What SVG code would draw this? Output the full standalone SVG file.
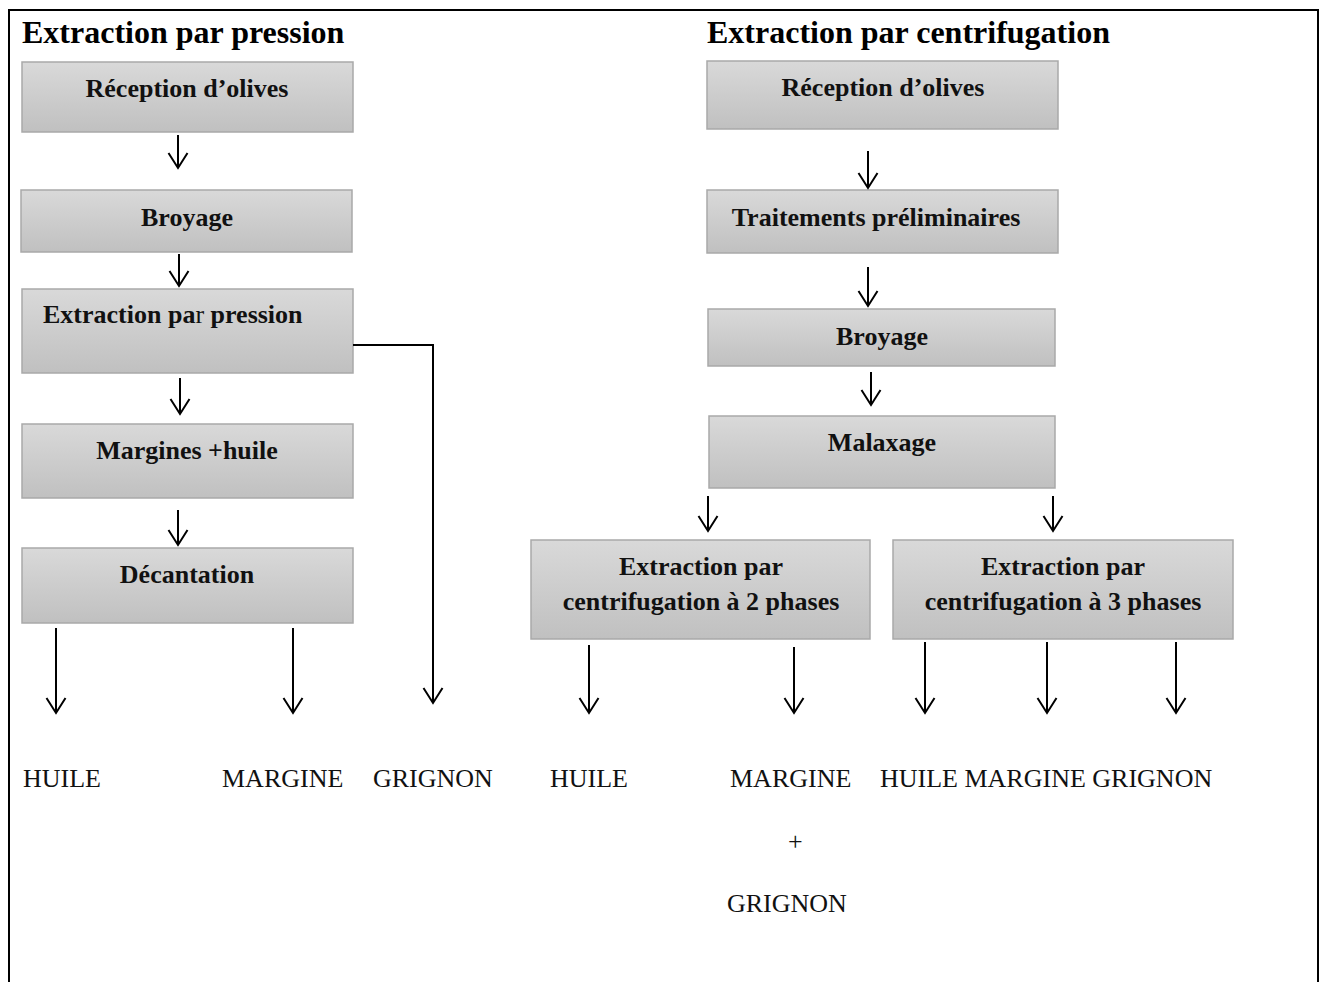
<svg xmlns="http://www.w3.org/2000/svg" width="1325" height="982" viewBox="0 0 1325 982">
<style>
.bx{fill:url(#g);stroke:#a9a9a9;stroke-width:1.5}
.bt{font-family:"Liberation Serif","Times New Roman",serif;font-weight:bold;font-size:26px;fill:#111;text-anchor:middle}
.st{text-anchor:start}
.tt{font-family:"Liberation Serif","Times New Roman",serif;font-weight:bold;font-size:32px;fill:#000}
.lb{font-family:"Liberation Serif","Times New Roman",serif;font-size:26px;fill:#111}
.ar{fill:none;stroke:#000;stroke-width:2;marker-end:url(#ah)}
</style>
<defs>
<linearGradient id="g" x1="0" y1="0" x2="0" y2="1">
<stop offset="0" stop-color="#d9d9d9"/>
<stop offset="1" stop-color="#c0c0c0"/>
</linearGradient>
<marker id="ah" viewBox="-17 -11 19 22" refX="0" refY="0" markerWidth="19" markerHeight="22" markerUnits="userSpaceOnUse" orient="auto">
<path d="M-15,-9.5 L0,0 L-15,9.5" fill="none" stroke="#000" stroke-width="2"/>
</marker>
</defs>
<rect width="1325" height="982" fill="#fff"/>
<path d="M9,982 V10 H1318 V982" fill="none" stroke="#000" stroke-width="2"/>
<g id="titles">
<text class="tt" x="22" y="43">Extraction par pression</text>
<text class="tt" x="707" y="43">Extraction par centrifugation</text>
</g>
<g id="L1"><rect class="bx" x="22" y="62" width="331" height="70"/><text class="bt" x="187" y="97">Réception d’olives</text></g>
<g id="L2"><rect class="bx" x="21" y="190" width="331" height="62"/><text class="bt" x="187" y="226">Broyage</text></g>
<g id="L3"><rect class="bx" x="22" y="289" width="331" height="84"/><text class="bt st" x="43" y="323">Extraction pa<tspan font-weight="normal">r</tspan> pression</text></g>
<g id="L4"><rect class="bx" x="22" y="424" width="331" height="74"/><text class="bt" x="187" y="459">Margines +huile</text></g>
<g id="L5"><rect class="bx" x="22" y="548" width="331" height="75"/><text class="bt" x="187" y="583">Décantation</text></g>
<g id="R1"><rect class="bx" x="707" y="61" width="351" height="68"/><text class="bt" x="883" y="96">Réception d’olives</text></g>
<g id="R2"><rect class="bx" x="707" y="190" width="351" height="63"/><text class="bt" x="876" y="226">Traitements préliminaires</text></g>
<g id="R3"><rect class="bx" x="708" y="309" width="347" height="57"/><text class="bt" x="882" y="345">Broyage</text></g>
<g id="R4"><rect class="bx" x="709" y="416" width="346" height="72"/><text class="bt" x="882" y="451">Malaxage</text></g>
<g id="R5"><rect class="bx" x="531" y="540" width="339" height="99"/><text class="bt" x="701" y="575">Extraction par</text><text class="bt" x="701" y="610">centrifugation à 2 phases</text></g>
<g id="R6"><rect class="bx" x="893" y="540" width="340" height="99"/><text class="bt" x="1063" y="575">Extraction par</text><text class="bt" x="1063" y="610">centrifugation à 3 phases</text></g>
<g id="connectors">
<path class="ar" d="M178,135 V168"/>
<path class="ar" d="M179,254 V286"/>
<path class="ar" d="M180,378 V414"/>
<path class="ar" d="M178,510 V545"/>
<path class="ar" d="M56,628 V713"/>
<path class="ar" d="M293,628 V713"/>
<path class="ar" d="M353,345 H433 V703" stroke-width="1.6"/>
<path class="ar" d="M868,151 V188"/>
<path class="ar" d="M868,267 V306"/>
<path class="ar" d="M871,372 V405"/>
<path class="ar" d="M708,496 V531"/>
<path class="ar" d="M1053,496 V531"/>
<path class="ar" d="M589,645 V713"/>
<path class="ar" d="M794,647 V713"/>
<path class="ar" d="M925,642 V713"/>
<path class="ar" d="M1047,642 V713"/>
<path class="ar" d="M1176,642 V713"/>
</g>
<g id="outputs">
<text class="lb" x="23" y="787">HUILE</text>
<text class="lb" x="222" y="787">MARGINE</text>
<text class="lb" x="373" y="787">GRIGNON</text>
<text class="lb" x="550" y="787">HUILE</text>
<text class="lb" x="730" y="787">MARGINE</text>
<text class="lb" x="880" y="787">HUILE MARGINE GRIGNON</text>
<text class="lb" x="788" y="850">+</text>
<text class="lb" x="727" y="912">GRIGNON</text>
</g>
</svg>
